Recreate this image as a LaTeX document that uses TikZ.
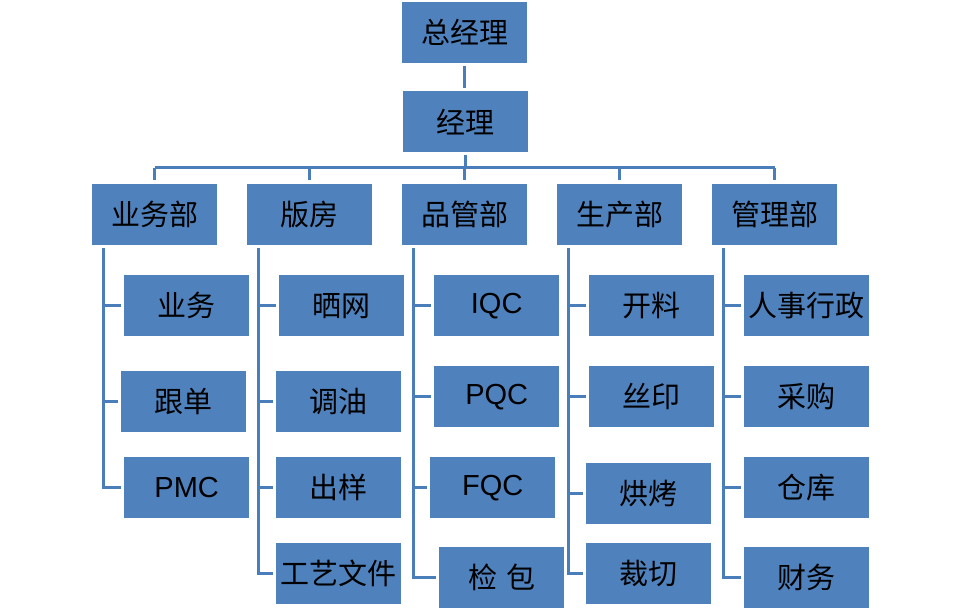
\documentclass[tikz,border=0pt]{standalone}
\usepackage{fontspec}
\setmainfont{Liberation Sans}
\newfontfamily\cjk{Noto Sans CJK SC}
\usetikzlibrary{calc}
\definecolor{boxblue}{HTML}{4F81BD}
\definecolor{linkblue}{HTML}{4A7EBB}
\begin{document}
\begin{tikzpicture}[x=1pt,y=-1pt,
  unit/.style={anchor=north west, fill=boxblue, draw=none, inner sep=0pt,
    minimum width=125pt, minimum height=61pt, text=black,
    font=\fontsize{29}{31}\selectfont\cjk},
  latin/.style={unit, font=\fontsize{29}{31}\selectfont},
  link/.style={draw=linkblue, line width=3pt},
  gap/.style={shorten <=3pt, shorten >=3pt}]
\useasboundingbox (0,0) rectangle (960,612);

% top of the chart
\node[unit] (ceo) at (402,2) {总经理};
\node[unit] (mgr) at (403,91) {经理};

% departments
\node[unit] (d1) at (92,184)  {业务部};
\node[unit] (d2) at (247,184) {版房};
\node[unit] (d3) at (402,184) {品管部};
\node[unit] (d4) at (557,184) {生产部};
\node[unit] (d5) at (712,184) {管理部};

% sections under each department
\node[unit]  (a1) at (124,275) {业务};
\node[unit]  (a2) at (121,371) {跟单};
\node[latin] (a3) at (124,457) {PMC};

\node[unit] (b1) at (279,275) {晒网};
\node[unit] (b2) at (276,371) {调油};
\node[unit] (b3) at (276,457) {出样};
\node[unit] (b4) at (276,543) {工艺文件};

\node[latin] (c1) at (434,275) {IQC};
\node[latin] (c2) at (434,366) {PQC};
\node[latin] (c3) at (430,457) {FQC};
\node[unit]  (c4) at (439,547) {检\hspace{0.3em}包};

\node[unit] (e1) at (589,275) {开料};
\node[unit] (e2) at (589,366) {丝印};
\node[unit] (e3) at (586,463) {烘烤};
\node[unit] (e4) at (586,543) {裁切};

\node[unit] (f1) at (744,275) {人事行政};
\node[unit] (f2) at (744,366) {采购};
\node[unit] (f3) at (744,457) {仓库};
\node[unit] (f4) at (744,547) {财务};

% general manager to manager
\draw[link, gap] (ceo.south) -- (ceo.south |- mgr.north);

% manager to the department bus
\coordinate (bus) at (465,168);
\draw[link, shorten <=3pt] (mgr.south) -- (mgr.south |- bus);
\draw[link] (d1.north |- bus) -- (d5.north |- bus);
\foreach \d in {d1,d2,d3,d4,d5}
  \draw[link, shorten >=4pt] (\d.north |- bus) -- (\d.north);

% spines from each department down to its sections
\foreach \d/\last/\others in {d1/a3/{a1,a2}, d2/b4/{b1,b2,b3},
                              d3/c4/{c1,c2,c3}, d4/e4/{e1,e2,e3},
                              d5/f4/{f1,f2,f3}} {
  \coordinate (s-\d) at ($(\d.south west)+(11,3)$);
  \draw[link, shorten >=3pt] (s-\d) |- (\last.west);
  \foreach \c in \others
    \draw[link, shorten >=3pt] (s-\d |- \c.west) -- (\c.west);
}
\end{tikzpicture}
\end{document}
